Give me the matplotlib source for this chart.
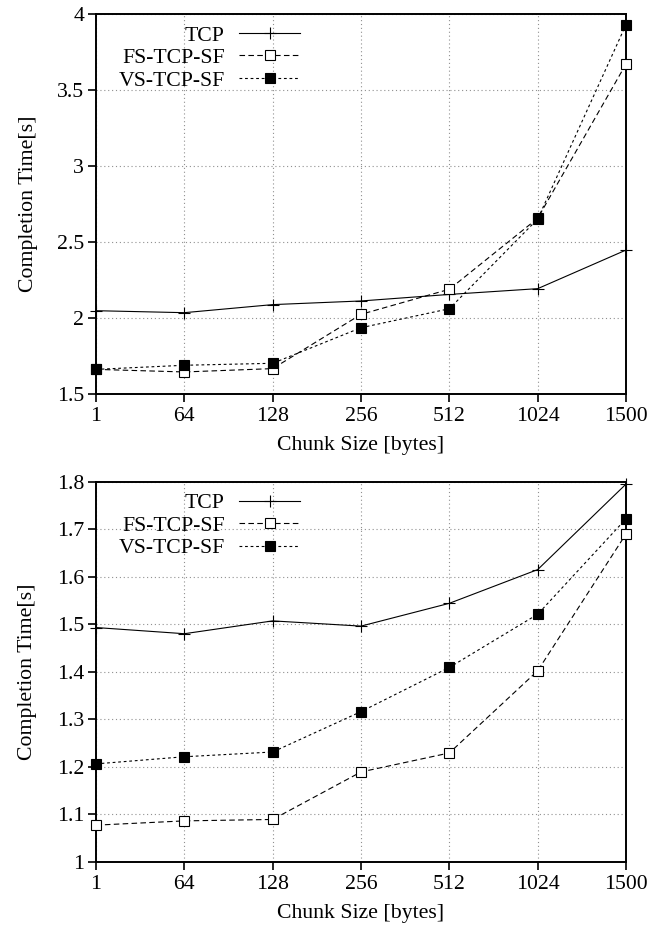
import matplotlib.pyplot as plt
from matplotlib.ticker import FixedLocator, FixedFormatter

plt.rcParams['font.family'] = ['Liberation Serif', 'DejaVu Serif']
plt.rcParams['font.size'] = 15.7

# Chunk sizes (categorical x axis)
chunks = ['1', '64', '128', '256', '512', '1024', '1500']

# oberer Plot
top_tcp = [2.048, 2.035, 2.088, 2.112, 2.155, 2.193, 2.447]
top_fs = [1.662, 1.645, 1.667, 2.024, 2.189, 2.656, 3.671]
top_vs = [1.662, 1.689, 1.702, 1.936, 2.061, 2.651, 3.930]
top_yticks = [1.5, 2, 2.5, 3, 3.5, 4]
top_ylabels = ['1.5', '2', '2.5', '3', '3.5', '4']

# unterer Plot
bot_tcp = [1.493, 1.480, 1.507, 1.496, 1.544, 1.615, 1.795]
bot_fs = [1.077, 1.086, 1.089, 1.189, 1.229, 1.402, 1.690]
bot_vs = [1.206, 1.221, 1.231, 1.316, 1.409, 1.521, 1.722]
bot_yticks = [1.0, 1.1, 1.2, 1.3, 1.4, 1.5, 1.6, 1.7, 1.8]
bot_ylabels = ['1', '1.1', '1.2', '1.3', '1.4', '1.5', '1.6', '1.7', '1.8']

fig = plt.figure(figsize=(6.65, 9.31), dpi=100)
ax1 = fig.add_axes([0.1444, 0.5768, 0.797, 0.4082])
ax2 = fig.add_axes([0.1444, 0.0744, 0.797, 0.4082])

panels = [
    (ax1, top_tcp, top_fs, top_vs, top_yticks, top_ylabels),
    (ax2, bot_tcp, bot_fs, bot_vs, bot_yticks, bot_ylabels),
]

for ax, tcp, fs, vs, yt, yl in panels:
    ax.plot(chunks, tcp, color='black', lw=0.8, marker='+', ms=8, mew=0.8,
            label='TCP', clip_on=False, zorder=3)
    ax.plot(chunks, fs, color='black', lw=0.8, dashes=(5, 3), marker='s', ms=7.5,
            mfc='white', mew=0.8, label='FS-TCP-SF', clip_on=False, zorder=3)
    ax.plot(chunks, vs, color='black', lw=0.8, dashes=(2.5, 2.5), marker='s', ms=7.5,
            mfc='black', mew=0.8, label='VS-TCP-SF', clip_on=False, zorder=4)

    ax.set_xlim(0, len(chunks) - 1)
    ax.set_ylim(yt[0], yt[-1])
    ax.yaxis.set_major_locator(FixedLocator(yt))
    ax.yaxis.set_major_formatter(FixedFormatter(yl))

    ax.grid(True, color='#909090', lw=0.8, linestyle=(0, (1, 2.5)))
    ax.set_axisbelow(True)
    for s in ax.spines.values():
        s.set_linewidth(1.4)
    ax.tick_params(direction='out', length=5.5, width=1.2, labelsize=15.7)
    ax.tick_params(axis='x', pad=4)
    ax.tick_params(axis='y', pad=3)

    ax.set_xlabel('Chunk Size [bytes]', labelpad=7)
    ax.set_ylabel('Completion Time[s]', labelpad=14)

    ax.legend(loc='upper right', bbox_to_anchor=(0.385, 0.970), frameon=False,
              markerfirst=False, handlelength=2.8, handletextpad=0.65,
              labelspacing=0.1, borderpad=0, borderaxespad=0)

fig.savefig('out.png', dpi=100)
